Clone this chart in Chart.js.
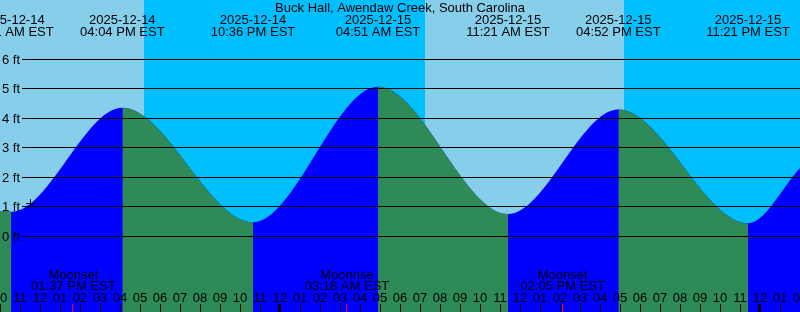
<!DOCTYPE html>
<html><head><meta charset="utf-8">
<script src="https://cdn.jsdelivr.net/npm/chart.js@4.4.0/dist/chart.umd.min.js"></script>
<style>html,body{margin:0;padding:0;background:#fff;overflow:hidden}#wrap{width:800px;height:312px;position:relative}</style>
</head><body><div id="wrap"><canvas id="c" width="800" height="312"></canvas></div>
<script>
const title = 'Buck Hall, Awendaw Creek, South Carolina';
// hours after 2025-12-14 10:00 AM EST
const tideHours = [-0.05, 0.52, 6.067, 12.6, 18.85, 25.35, 30.867, 37.35, 39.95];
const tideFeet  = [0.86, 0.84, 4.36, 0.48, 5.07, 0.76, 4.30, 0.45, 2.32];
const eventHours = [0.52, 6.067, 12.6, 18.85, 25.35, 30.867, 37.35];
const eventDates = ['2025-12-14','2025-12-14','2025-12-14','2025-12-15','2025-12-15','2025-12-15','2025-12-15'];
const eventTimes = ['10:31 AM EST','04:04 PM EST','10:36 PM EST','04:51 AM EST','11:21 AM EST','04:52 PM EST','11:21 PM EST'];
const moonHours = [3.617, 17.3, 28.083];
const moonNames = ['Moonset','Moonrise','Moonset'];
const moonTimes = ['01:37 PM EST','03:18 AM EST','02:05 PM EST'];
const nightStart = [7.15, 31.15];
const nightEnd   = [21.2, 39.95];
const midnightHours = [14, 38];
const hourTicks  = [0,1,2,3,4,5,6,7,8,9,10,11,12,13,14,15,16,17,18,19,20,21,22,23,24,25,26,27,28,29,30,31,32,33,34,35,36,37,38,39,40];
const hourLabels = ['10','11','12','01','02','03','04','05','06','07','08','09','10','11','12','01','02','03','04','05','06','07','08','09','10','11','12','01','02','03','04','05','06','07','08','09','10','11','12','01','02'];
const footTicks  = [0,1,2,3,4,5,6];
const footLabels = ['0 ft','1 ft','2 ft','3 ft','4 ft','5 ft','6 ft'];
const nowHour = [1.475];
const nowFeet = [1.11];

const FONT = '13px "Liberation Sans", Arial, sans-serif';
const DAY = '#87CEEB', NIGHT = '#00BFFF', RISE = '#0000FF', FALL = '#2E8B57';

const bgPlugin = {
  id: 'bg',
  beforeDraw(chart) {
    const {ctx, chartArea: a, scales: {x}} = chart;
    ctx.save();
    ctx.fillStyle = DAY;
    ctx.fillRect(0, 0, chart.width, chart.height);
    ctx.fillStyle = NIGHT;
    for (let i = 0; i < nightStart.length; i++) {
      const x0 = Math.round(x.getPixelForValue(nightStart[i]));
      const x1 = Math.round(x.getPixelForValue(nightEnd[i]));
      ctx.fillRect(x0, 0, x1 - x0, chart.height);
    }
    ctx.restore();
  }
};

const overlayPlugin = {
  id: 'overlay',
  afterDatasetsDraw(chart) {
    const {ctx, chartArea: a, scales: {x, y}} = chart;
    ctx.save();
    ctx.strokeStyle = '#000'; ctx.lineWidth = 1;
    ctx.font = FONT; ctx.fillStyle = '#000'; ctx.textAlign = 'left'; ctx.textBaseline = 'alphabetic';
    footTicks.forEach((f, i) => {
      const py = Math.floor(y.getPixelForValue(f));
      ctx.beginPath(); ctx.moveTo(22, py + 0.5); ctx.lineTo(chart.width, py + 0.5); ctx.stroke();
      ctx.fillText(footLabels[i], 2, py + 5);
    });
    ctx.textAlign = 'center';
    ctx.fillText(title, 400, 12);
    eventHours.forEach((h, i) => {
      const px = x.getPixelForValue(h);
      ctx.fillText(eventDates[i], px, 24);
      ctx.fillText(eventTimes[i], px, 36);
    });
    moonHours.forEach((h, i) => {
      const px = x.getPixelForValue(h);
      ctx.fillText(moonNames[i], px, 279);
      ctx.fillText(moonTimes[i], px, 290);
    });
    hourTicks.forEach((h, i) => {
      const px = Math.round(x.getPixelForValue(h));
      ctx.fillText(hourLabels[i], px - 1, 302);
      ctx.fillRect(px - 1, 304, 1, 8);
    });
    midnightHours.forEach(h => {
      const px = Math.round(x.getPixelForValue(h));
      ctx.fillRect(px - 3, 304, 3, 8);
    });
    ctx.fillStyle = '#FF0000';
    moonHours.forEach(h => {
      const px = Math.round(x.getPixelForValue(h));
      ctx.fillRect(px - 1, 304, 1, 8);
    });
    ctx.restore();
  }
};

const tidePoints = tideHours.map((h, i) => ({x: h, y: tideFeet[i]}));

new Chart(document.getElementById('c'), {
  type: 'line',
  data: {
    datasets: [
      {
        data: nowHour.map((h, i) => ({x: h, y: nowFeet[i]})),
        showLine: false,
        pointStyle: 'cross',
        pointRadius: 4.5,
        borderColor: '#000',
        backgroundColor: '#000',
        borderWidth: 1,
        fill: false,
        order: 0
      },
      {
        data: tidePoints,
        cubicInterpolationMode: 'monotone',
        borderColor: 'rgba(0,0,0,0)',
        borderWidth: 0,
        pointRadius: 0,
        fill: 'start',
        backgroundColor: 'rgba(0,0,0,0)',
        segment: {
          backgroundColor: c => (c.p1.parsed.y > c.p0.parsed.y ? 'rgba(0,0,0,0)' : FALL)
        },
        order: 1
      },
      {
        data: tidePoints,
        cubicInterpolationMode: 'monotone',
        borderColor: 'rgba(0,0,0,0)',
        borderWidth: 0,
        pointRadius: 0,
        fill: 'start',
        backgroundColor: RISE,
        order: 2
      }
    ]
  },
  options: {
    responsive: false,
    animation: false,
    events: [],
    layout: {padding: 0, autoPadding: false},
    plugins: {legend: {display: false}, tooltip: {enabled: false}},
    scales: {
      x: {type: 'linear', min: -0.05, max: 39.95, display: false},
      y: {type: 'linear', min: -2.555, max: 8.003, display: false}
    }
  },
  plugins: [bgPlugin, overlayPlugin]
});
</script>
</body></html>
